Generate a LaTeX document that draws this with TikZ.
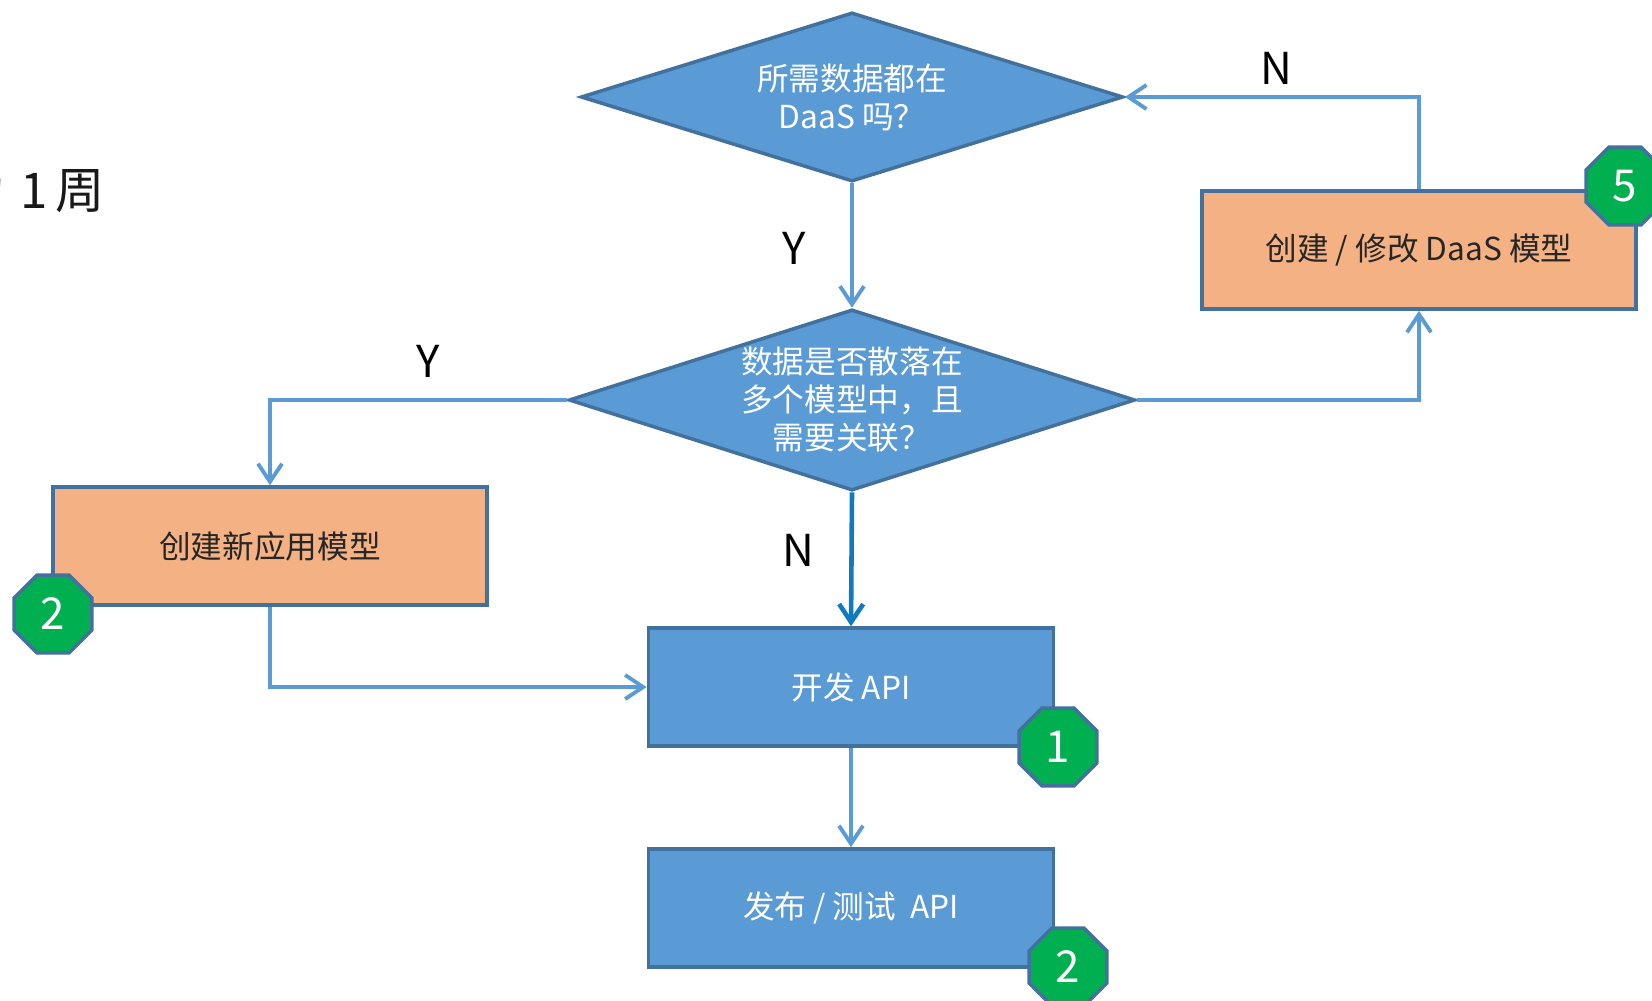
\documentclass[tikz,border=0pt]{standalone}
\usepackage{fontspec}
\setmainfont{Noto Sans CJK SC}
\usepackage{tikz}
\usetikzlibrary{arrows.meta, shapes.geometric}
\definecolor{boxblue}{HTML}{5B9BD5}
\definecolor{edgeblue}{HTML}{41719C}
\definecolor{boxorange}{HTML}{F4B183}
\definecolor{badgegreen}{HTML}{00B050}
\definecolor{linkdark}{HTML}{0F7AC0}

\begin{document}
\begin{tikzpicture}[x=0.01cm, y=-0.01cm,
    every node/.style={font=\fontsize{9}{10.8}\selectfont},
    question/.style={shape=diamond, draw=edgeblue, line width=1pt, fill=boxblue,
      text=white, align=center, inner sep=0pt, aspect=3.1},
    task/.style={rectangle, draw=edgeblue, line width=1pt, fill=boxblue,
      text=white, minimum width=4.05cm, minimum height=1.18cm},
    model/.style={rectangle, draw=edgeblue, line width=1pt, fill=boxorange,
      text=black!85, minimum width=4.34cm, minimum height=1.18cm},
    badge/.style={regular polygon, regular polygon sides=8, draw=edgeblue,
      line width=1pt, fill=badgegreen, text=white, inner sep=0pt,
      minimum size=0.84cm, font=\fontsize{12.5}{14}\selectfont},
    tag/.style={font=\fontsize{12.5}{14}\selectfont, text=black},
    arr/.style={draw=boxblue, line width=1.1pt,
      -{Straight Barb[length=1.8mm, width=2.4mm, line width=1.1pt]}},
    arrdark/.style={draw=linkdark, line width=1.3pt,
      -{Straight Barb[length=1.8mm, width=2.4mm, line width=1.3pt]}}]
  \useasboundingbox (0,0) rectangle (1652,1000);

  % cut-off text on the left
  \node[tag, anchor=east, inner sep=0pt, text=black!90,
    font=\fontsize{14}{16}\selectfont] (week) at (105,190)
    {为\hspace{0.145cm}1\hspace{0.07cm}周};

  % decisions
  \node[question, minimum width=5.42cm, minimum height=1.69cm] (q1) at (852,97)
    {所需数据都在\\DaaS 吗？};
  \node[question, minimum width=5.66cm, minimum height=1.81cm] (q2) at (852,400)
    {数据是否散落在\\多个模型中，且\\需要关联？};

  % models
  \node[model] (mod) at (1419,250) {创建 / 修改 DaaS 模型};
  \node[model] (app) at (270,546) {创建新应用模型};

  % API steps
  \node[task] (dev) at (851,687) {开发 API};
  \node[task] (pub) at (851,908) {发布 / 测试 \ API};

  % connectors
  \draw[arr] (q1.south) -- (q2.north);
  \draw[arr] (q2.east) -| (mod.south);
  \draw[arr] (mod.north) |- (q1.east);
  \draw[arr] (q2.west) -| (app.north);
  \draw[arrdark] (q2.south) -- (dev.north);
  \draw[arr] (app.south) |- (dev.west);
  \draw[arr] (dev.south) -- (pub.north);

  % branch labels
  \node[tag] (y1) at (794,248) {Y};
  \node[tag] (n1) at (1276,68) {N};
  \node[tag] (y2) at (428,361) {Y};
  \node[tag] (n2) at (798,550) {N};

  % badges
  \node[badge] (b5) at (1625,186) {5};
  \node[badge] (b2a) at (53,614) {2};
  \node[badge] (b1) at (1058,747) {1};
  \node[badge] (b2b) at (1068,967) {2};
\end{tikzpicture}
\end{document}
